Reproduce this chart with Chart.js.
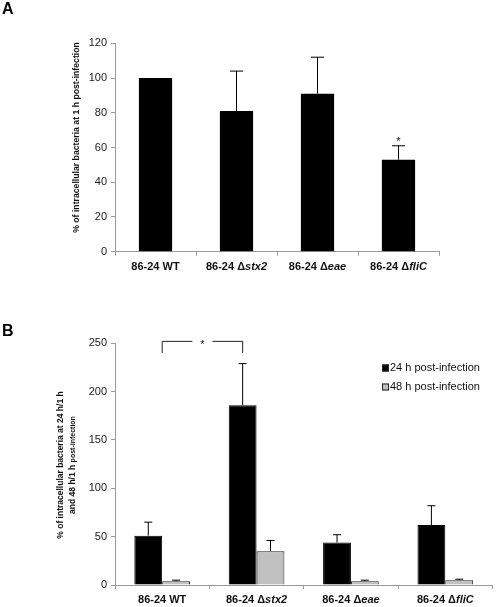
<!DOCTYPE html>
<html>
<head>
<meta charset="utf-8">
<script src="https://cdn.jsdelivr.net/npm/chart.js@4.4.1/dist/chart.umd.min.js"></script>
<style>
  html, body { margin: 0; padding: 0; background: #fff; }
  #wrap { position: relative; width: 496px; height: 607px; }
  #chartA { position: absolute; left: 0; top: 0; }
  #chartB { position: absolute; left: 0; top: 300px; }
</style>
</head>
<body>
<div id="wrap">
  <canvas id="chartA" width="496" height="300"></canvas>
  <canvas id="chartB" width="496" height="307"></canvas>
</div>
<script>
// Categories (text after the delta is drawn in italics)
const strains = ['86-24 WT', '86-24 \u0394stx2', '86-24 \u0394eae', '86-24 \u0394fliC'];

// Panel A: % intracellular at 1 h post-infection
const valuesA = [100, 81, 91, 53];
const errorsA = [0, 23, 21, 8];
const starsA = ['', '', '', '*'];
const ticksA = [0, 20, 40, 60, 80, 100, 120];

// Panel B: % intracellular at 24 h/1 h and 48 h/1 h
const seriesB = ['24 h post-infection', '48 h post-infection'];
const values24 = [51, 186, 44, 62];
const errors24 = [14, 43, 8, 20];
const values48 = [4, 35, 4, 5];
const errors48 = [1, 11, 1, 1];
const ticksB = [0, 50, 100, 150, 200, 250];

const FONT = '"Liberation Sans", Arial, Helvetica, sans-serif';
const AXIS_GREY = '#9a9a9a';

Chart.defaults.font.family = FONT;
Chart.defaults.animation = false;

// draws "86-24 Δ" upright and the gene name in italic, centred on x
function drawStrainLabel(ctx, text, x, y) {
    const parts = text.split('\u0394');
    const head = parts.length > 1 ? parts[0] + '\u0394' : parts[0];
    const tail = parts.length > 1 ? parts[1] : '';
    const upright = 'bold 11px ' + FONT;
    const italic = 'italic bold 11px ' + FONT;
    ctx.font = upright;
    const w1 = ctx.measureText(head).width;
    ctx.font = italic;
    const w2 = ctx.measureText(tail).width;
    let left = x - (w1 + w2) / 2;
    ctx.textAlign = 'left';
    ctx.textBaseline = 'middle';
    ctx.fillStyle = '#111';
    ctx.font = upright;
    ctx.fillText(head, left, y);
    ctx.font = italic;
    ctx.fillText(tail, left + w1, y);
}

function drawErrorBars(chart, datasetIndex, errors, capWidth) {
    const ctx = chart.ctx;
    const yScale = chart.scales.y;
    const meta = chart.getDatasetMeta(datasetIndex);
    const values = chart.data.datasets[datasetIndex].data;
    ctx.save();
    ctx.strokeStyle = '#000';
    ctx.lineWidth = 1;
    meta.data.forEach((bar, i) => {
        if (!errors[i]) return;
        const yTop = yScale.getPixelForValue(values[i] + errors[i]);
        ctx.beginPath();
        ctx.moveTo(bar.x, bar.y);
        ctx.lineTo(bar.x, yTop);
        ctx.moveTo(bar.x - capWidth / 2, yTop);
        ctx.lineTo(bar.x + capWidth / 2, yTop);
        ctx.stroke();
    });
    ctx.restore();
}

const decorA = {
    id: 'decorA',
    afterDatasetsDraw(chart) {
        const ctx = chart.ctx;
        const x = chart.scales.x;
        const y = chart.scales.y;
        drawErrorBars(chart, 0, errorsA, 13);

        ctx.save();
        // significance stars
        ctx.fillStyle = '#111';
        ctx.font = '11px ' + FONT;
        ctx.textAlign = 'center';
        ctx.textBaseline = 'alphabetic';
        chart.getDatasetMeta(0).data.forEach((bar, i) => {
            if (!starsA[i]) return;
            const top = y.getPixelForValue(valuesA[i] + errorsA[i]);
            ctx.fillText(starsA[i], bar.x, top - 1);
        });

        // category labels
        strains.forEach((s, i) => drawStrainLabel(ctx, s, x.getPixelForValue(i), 267));

        // axis title
        ctx.translate(77, 137.5);
        ctx.rotate(-Math.PI / 2);
        ctx.font = 'bold 8.7px ' + FONT;
        ctx.textAlign = 'center';
        ctx.textBaseline = 'middle';
        ctx.fillText('% of intracellular bacteria at 1 h post-infection', 0, 0);
        ctx.restore();

        // panel letter
        ctx.save();
        ctx.font = 'bold 16px ' + FONT;
        ctx.fillStyle = '#000';
        ctx.textBaseline = 'middle';
        ctx.fillText('A', 2, 10);
        ctx.restore();
    }
};

const decorB = {
    id: 'decorB',
    afterDatasetsDraw(chart) {
        const ctx = chart.ctx;
        const x = chart.scales.x;
        const y = chart.scales.y;
        drawErrorBars(chart, 0, errors24, 8);
        drawErrorBars(chart, 1, errors48, 8);

        ctx.save();
        // bracket between WT and stx2
        const xl = x.getPixelForValue(0);
        const xr = chart.getDatasetMeta(0).data[1].x;
        const yt = y.getPixelForValue(252);
        const yb = y.getPixelForValue(240);
        const mid = (xl + xr) / 2;
        ctx.strokeStyle = '#222';
        ctx.lineWidth = 1;
        ctx.beginPath();
        ctx.moveTo(xl, yb);
        ctx.lineTo(xl, yt);
        ctx.lineTo(mid - 10, yt);
        ctx.moveTo(mid + 10, yt);
        ctx.lineTo(xr, yt);
        ctx.lineTo(xr, yb);
        ctx.stroke();
        ctx.fillStyle = '#111';
        ctx.font = '11px ' + FONT;
        ctx.textAlign = 'center';
        ctx.textBaseline = 'alphabetic';
        ctx.fillText('*', mid, yt + 7);

        // legend
        const fills = ['#000', '#c0c0c0'];
        seriesB.forEach((label, i) => {
            const ly = 68 + i * 19;
            ctx.fillStyle = fills[i];
            ctx.fillRect(382, ly - 3.5, 7, 7);
            ctx.strokeStyle = '#222';
            ctx.strokeRect(382.5, ly - 3, 6, 6);
            ctx.fillStyle = '#111';
            ctx.font = '11px ' + FONT;
            ctx.textAlign = 'left';
            ctx.textBaseline = 'middle';
            ctx.fillText(label, 390, ly);
        });

        // category labels
        strains.forEach((s, i) => drawStrainLabel(ctx, s, x.getPixelForValue(i), 300));

        // axis title, two lines, centred on the plot height
        ctx.fillStyle = '#111';
        ctx.translate(0, 165);
        ctx.rotate(-Math.PI / 2);
        ctx.textBaseline = 'middle';
        ctx.textAlign = 'center';
        ctx.font = 'bold 8.5px ' + FONT;
        ctx.fillText('% of intracellular bacteria at 24 h/1 h', 0, 61);
        const partA = 'and 48 h/1 h ';
        const partB = 'post-infection';
        ctx.font = 'bold 8.5px ' + FONT;
        const wa = ctx.measureText(partA).width;
        ctx.font = 'bold 7px ' + FONT;
        const wb = ctx.measureText(partB).width;
        ctx.textAlign = 'left';
        ctx.font = 'bold 8.5px ' + FONT;
        ctx.fillText(partA, -(wa + wb) / 2, 73);
        ctx.font = 'bold 7px ' + FONT;
        ctx.fillText(partB, -(wa + wb) / 2 + wa, 73);
        ctx.restore();

        ctx.save();
        ctx.font = 'bold 16px ' + FONT;
        ctx.fillStyle = '#000';
        ctx.textBaseline = 'middle';
        ctx.fillText('B', 2, 32);
        ctx.restore();
    }
};

function yAxis(max, step, ticks) {
    return {
        min: 0,
        max: max,
        afterFit: s => { s.width = 115; },
        afterBuildTicks: s => { s.ticks = ticks.map(v => ({ value: v })); },
        border: { color: AXIS_GREY, width: 1 },
        grid: { drawOnChartArea: false, color: AXIS_GREY, tickLength: 4 },
        ticks: { color: '#222', font: { size: 11 }, padding: 4 }
    };
}

function xAxis(height) {
    return {
        afterFit: s => { s.height = height; },
        border: { color: AXIS_GREY, width: 1 },
        grid: { drawOnChartArea: false, color: AXIS_GREY, tickLength: 4, offset: true },
        ticks: { color: 'rgba(0,0,0,0)', font: { size: 11 } }
    };
}

new Chart(document.getElementById('chartA'), {
    type: 'bar',
    data: {
        labels: strains,
        datasets: [{
            label: '1 h post-infection',
            data: valuesA,
            backgroundColor: '#000',
            borderColor: '#000',
            borderWidth: 0,
            categoryPercentage: 1,
            barPercentage: 0.41
        }]
    },
    options: {
        responsive: false,
        layout: { padding: { left: 0, right: 57, top: 43.3, bottom: 0 } },
        plugins: { legend: { display: false }, tooltip: { enabled: false } },
        scales: { x: xAxis(48.3), y: yAxis(120, 20, ticksA) }
    },
    plugins: [decorA]
});

new Chart(document.getElementById('chartB'), {
    type: 'bar',
    data: {
        labels: strains,
        datasets: [{
            label: seriesB[0],
            data: values24,
            backgroundColor: '#000',
            borderColor: '#000',
            borderWidth: 1,
            categoryPercentage: 0.59,
            barPercentage: 1
        }, {
            label: seriesB[1],
            data: values48,
            backgroundColor: '#c0c0c0',
            borderColor: '#222',
            borderWidth: 1,
            categoryPercentage: 0.59,
            barPercentage: 1
        }]
    },
    options: {
        responsive: false,
        layout: { padding: { left: 0, right: 3.5, top: 43.3, bottom: 0 } },
        plugins: { legend: { display: false }, tooltip: { enabled: false } },
        scales: { x: xAxis(22), y: yAxis(250, 50, ticksB) }
    },
    plugins: [decorB]
});
</script>
</body>
</html>
